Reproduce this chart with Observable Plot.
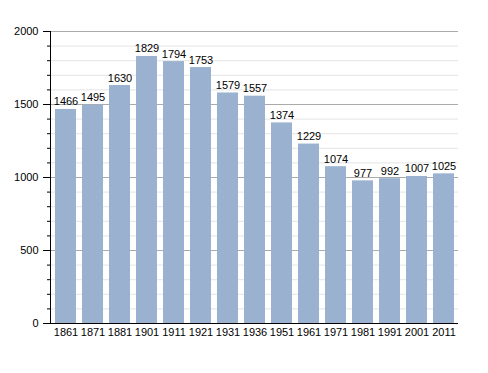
<!DOCTYPE html>
<html>
<head>
<meta charset="utf-8">
<script src="https://cdn.jsdelivr.net/npm/d3@7"></script>
<script src="https://cdn.jsdelivr.net/npm/@observablehq/plot@0.6"></script>
<style>
  body { margin: 0; background: #fff; }
  svg { font-family: "Liberation Sans", Arial, sans-serif; }
</style>
</head>
<body>
<div id="chart"></div>
<script>
const years = ["1861","1871","1881","1901","1911","1921","1931","1936","1951","1961","1971","1981","1991","2001","2011"];
const population = [1466,1495,1630,1829,1794,1753,1579,1557,1374,1229,1074,977,992,1007,1025];
const majorTicks = [0,500,1000,1500,2000];
const minorTicks = d3.range(0, 2001, 100);

const data = years.map((y, i) => ({year: y, value: population[i]}));

const chart = Plot.plot({
  width: 488,
  height: 373,
  marginLeft: 50,
  marginRight: 30,
  marginTop: 31,
  marginBottom: 50,
  style: {fontFamily: "Liberation Sans, Arial, sans-serif", fontSize: "11px", background: "#fff"},
  x: {domain: years, paddingInner: 0.23, paddingOuter: 0.03, label: null},
  y: {domain: [0, 2000], label: null},
  marks: [
    Plot.ruleY(minorTicks.filter(d => d % 500 !== 0), {stroke: "#e4e4e4", strokeWidth: 1}),
    Plot.ruleY(majorTicks.filter(d => d > 0), {stroke: "#aaaaaa", strokeWidth: 1}),
    Plot.barY(data, {x: "year", y: "value", fill: "#9ab2cf"}),
    Plot.text(data, {x: "year", y: "value", text: d => String(d.value), lineAnchor: "bottom", dy: -4, fill: "#000", fontSize: 11}),
    Plot.axisY(minorTicks, {tickSize: 3, text: null, stroke: "#000"}),
    Plot.axisY(majorTicks, {tickSize: 7, tickPadding: 5, tickFormat: "d", fill: "#000", fontSize: 11}),
    Plot.axisX({tickSize: 0, tickPadding: 5, fill: "#000", fontSize: 11}),
    Plot.frame({anchor: "left", stroke: "#000"}),
    Plot.ruleY([0], {stroke: "#000", strokeWidth: 1.2})
  ]
});
document.getElementById("chart").appendChild(chart);
</script>
</body>
</html>
